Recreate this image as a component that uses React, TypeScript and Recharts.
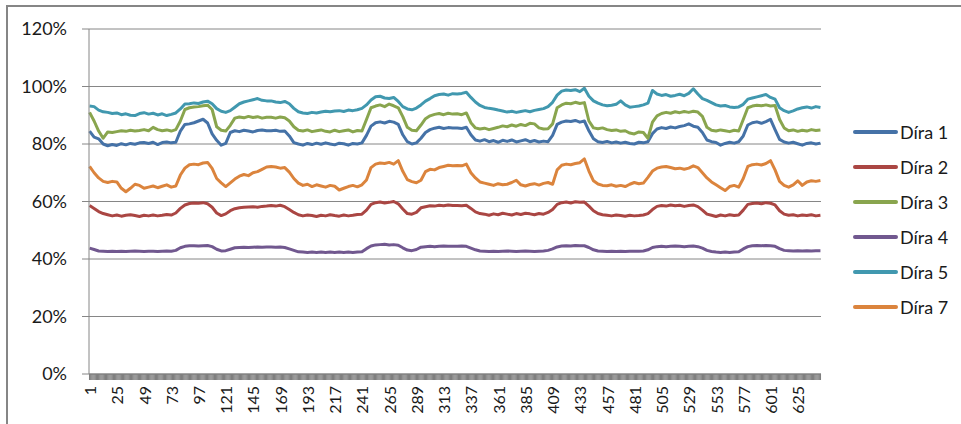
import React from 'react';
import {
  LineChart,
  Line,
  XAxis,
  YAxis,
  CartesianGrid,
  Legend,
} from 'recharts';

// values read every 4th measurement (1, 5, 9 ... 645), in %
const dira1 = [
  84.5, 82.4, 81.8, 80.0, 79.4, 79.8, 79.5, 80.1, 79.7, 80.2, 79.9, 80.4, 80.5, 80.2, 80.6, 79.8, 80.5, 80.7, 80.4, 80.6,
  84.5, 86.8, 87.0, 87.4, 88.0, 88.6, 87.3, 83.5, 81.3, 79.6, 80.2, 84.0, 84.6, 84.3, 84.8, 84.5, 84.2, 84.7, 84.9, 84.6,
  84.6, 84.8, 84.4, 84.5, 82.8, 80.5, 80.0, 79.6, 80.2, 79.8, 80.3, 79.9, 80.4, 80.0, 79.7, 80.3, 80.1, 79.6, 80.2, 80.0,
  80.4, 83.0, 86.2, 87.4, 87.7, 87.3, 87.9, 87.6, 86.8, 83.2, 80.8, 80.0, 80.4, 82.0, 84.0, 85.0, 85.5, 85.8, 85.4, 85.7, 85.6,
  85.6, 85.4, 85.8, 83.2, 81.4, 81.0, 81.5, 80.8, 81.2, 80.6, 81.3, 80.9, 81.4, 80.7, 81.1, 81.5, 80.8, 81.2, 80.7, 81.0,
  80.8, 83.0, 86.8, 87.6, 88.0, 87.8, 88.2, 87.6, 88.0, 84.6, 81.8, 80.8, 80.5, 80.9, 80.4, 80.7, 80.3, 80.6, 80.2, 80.0,
  80.6, 80.4, 80.8, 83.6, 85.2, 85.7, 85.4, 85.9, 85.6, 86.1, 86.4, 87.0, 86.2, 85.8, 84.0, 81.4, 80.8, 80.5, 79.6, 80.2,
  80.6, 80.3, 80.8, 82.8, 86.6, 87.4, 87.7, 87.2, 87.8, 88.6, 85.0, 81.6, 80.7, 80.3, 80.6, 80.1, 79.6, 80.2, 80.4, 80.0, 80.3,
];

const dira2 = [
  58.6, 57.6, 56.5, 55.8, 55.4, 55.0, 55.3, 54.9, 55.2, 55.4, 55.1, 54.8, 55.2, 55.0, 55.3, 55.0, 55.2, 55.5, 55.3, 56.0,
  57.6, 58.8, 59.3, 59.5, 59.4, 59.6, 59.2, 58.0, 56.0, 55.1, 55.7, 56.8, 57.5, 57.8, 58.0, 58.1, 58.2, 58.0, 58.3, 58.4,
  58.6, 58.4, 58.7, 58.2, 57.2, 56.2, 55.4, 55.0, 55.3, 55.1, 54.8, 55.2, 55.0, 55.4, 55.1, 54.9, 55.3, 55.0, 55.2, 55.5,
  55.6, 57.0, 59.0, 59.6, 59.8, 59.5, 59.7, 60.0, 59.2, 57.4, 55.8, 55.6, 56.2, 57.8, 58.2, 58.5, 58.4, 58.7, 58.5, 58.8, 58.6,
  58.6, 58.5, 58.7, 57.6, 56.4, 55.8, 55.6, 55.2, 55.7, 55.4, 55.9, 55.6, 55.3, 55.8, 55.5, 55.9, 55.7, 55.4, 55.8, 55.6,
  56.2, 57.2, 59.0, 59.6, 59.8, 59.5, 59.9, 59.7, 59.8, 58.4, 56.8, 55.8, 55.4, 55.2, 55.0, 55.3, 55.1, 54.9, 55.2, 55.0,
  55.1, 55.3, 55.8, 57.2, 58.3, 58.6, 58.4, 58.8, 58.5, 58.7, 58.3, 58.6, 58.8, 58.2, 57.0, 55.6, 55.2, 54.8, 55.3, 55.0,
  55.4, 55.1, 55.3, 57.0, 59.0, 59.3, 59.5, 59.2, 59.6, 59.4, 58.8, 56.8, 55.6, 55.2, 55.4, 55.0, 55.3, 55.1, 55.4, 55.0, 55.2,
];

const dira3 = [
  91.0, 88.0, 84.5, 82.0, 84.2, 84.0, 84.3, 84.6, 84.4, 84.8, 84.5, 84.7, 85.0, 84.6, 85.8, 85.0, 84.6, 84.9, 84.5, 85.0,
  88.0, 92.0, 92.6, 92.9, 93.0, 93.3, 93.5, 92.0, 86.0, 84.8, 84.5, 86.5, 89.0, 89.4, 89.1, 89.6, 89.2, 89.5, 89.0, 89.3,
  89.3, 89.0, 89.4, 89.1, 88.0, 86.0, 84.8, 84.5, 84.9, 84.3, 84.6, 84.9, 84.4, 84.2, 84.8, 84.3, 84.6, 84.9, 84.2, 84.7,
  84.5, 88.5, 92.6, 93.2, 93.6, 93.0, 93.9, 93.3, 92.6, 89.5, 85.8, 84.8, 84.6, 86.6, 88.8, 89.8, 90.3, 90.6, 90.2, 90.7, 90.4,
  90.5, 90.2, 90.8, 87.4, 85.6, 85.2, 85.5, 85.0, 85.4, 85.8, 86.3, 86.0, 86.6, 86.2, 86.8, 86.4, 87.2, 87.0, 85.6, 85.2,
  85.3, 87.0, 92.6, 93.6, 94.2, 94.0, 94.5, 94.1, 94.4, 88.0, 85.6, 85.3, 85.6, 85.0, 84.7, 84.9, 84.4, 84.6, 83.8, 83.5,
  84.2, 84.0, 82.0, 87.6, 89.8, 90.6, 91.0, 90.7, 91.2, 90.9, 91.3, 91.0, 91.4, 91.1, 89.6, 85.8, 84.8, 84.5, 84.9, 84.6,
  84.3, 84.8, 84.5, 88.5, 92.6, 93.2, 93.5, 93.3, 93.6, 93.2, 93.4, 88.5, 85.6, 84.6, 84.9, 84.4, 84.8, 84.5, 85.0, 84.7, 84.9,
];

const dira4 = [
  43.8, 43.3, 42.8, 42.7, 42.6, 42.7, 42.6, 42.7, 42.6, 42.7, 42.8, 42.7, 42.6, 42.7, 42.7, 42.6, 42.7, 42.8, 42.7, 43.0,
  43.9, 44.4, 44.6, 44.6, 44.5, 44.6, 44.7, 44.3, 43.4, 42.8, 42.9, 43.4, 43.9, 44.0, 44.1, 44.0, 44.1, 44.2, 44.1, 44.2,
  44.2, 44.1, 44.2, 44.0, 43.5, 43.0, 42.5, 42.4, 42.3, 42.4, 42.3, 42.4, 42.3, 42.4, 42.3, 42.4, 42.3, 42.4, 42.3, 42.4,
  42.5, 43.6, 44.5, 44.9, 45.0, 45.1, 44.9, 45.0, 44.8, 43.9, 43.1, 42.9, 43.3, 44.1, 44.3, 44.4, 44.3, 44.4, 44.5, 44.4, 44.4,
  44.4, 44.5, 44.4, 43.8, 43.2, 42.8, 42.7, 42.6, 42.7, 42.6, 42.7, 42.8, 42.7, 42.6, 42.7, 42.8, 42.7, 42.6, 42.7, 42.8,
  43.0, 43.5, 44.2, 44.5, 44.6, 44.5, 44.7, 44.6, 44.6, 44.0, 43.2, 42.8, 42.7, 42.6, 42.7, 42.6, 42.7, 42.6, 42.7, 42.7,
  42.7, 42.8, 43.2, 44.0, 44.3, 44.4, 44.3, 44.4, 44.5, 44.4, 44.3, 44.4, 44.5, 44.3, 43.8, 43.0, 42.6, 42.4, 42.3, 42.4,
  42.3, 42.4, 42.5, 43.5, 44.3, 44.6, 44.7, 44.6, 44.7, 44.6, 44.4, 43.6, 43.0, 42.9, 42.8, 42.9, 42.8, 42.9, 42.8, 42.9, 42.9,
];

const dira5 = [
  93.2, 93.0, 91.8, 91.2, 91.0, 90.6, 90.8, 90.2, 90.5, 90.0, 89.9, 90.6, 90.9, 90.4, 90.7, 90.1, 90.5, 89.9, 90.3, 90.8,
  92.2, 93.9, 94.0, 94.3, 94.1, 94.6, 94.9, 94.0, 92.3, 91.4, 91.0, 91.6, 92.8, 94.0, 94.6, 95.0, 95.4, 95.8, 95.2, 95.0,
  95.0, 94.6, 94.4, 94.8, 94.0, 92.4, 91.2, 90.8, 90.6, 91.0, 90.8, 91.1, 91.4, 91.2, 91.5, 91.6, 91.3, 91.8, 91.6, 91.9,
  92.4, 93.6, 95.3, 96.4, 96.6, 96.0, 95.8, 96.2, 94.8, 93.0, 92.2, 91.9, 92.5, 93.6, 94.9, 95.8, 96.8, 97.2, 97.4, 97.0, 97.5,
  97.4, 97.6, 98.0, 96.2, 94.6, 93.4, 92.7, 92.4, 92.2, 91.8, 91.5, 91.1, 91.4, 91.0, 91.3, 91.6, 91.2, 91.7, 92.0, 92.3,
  93.0, 94.5, 97.0, 98.4, 98.8, 98.6, 98.9, 98.2, 99.4, 96.6, 95.0, 94.2, 93.6, 93.3, 93.5, 93.8, 95.0, 93.6, 92.8, 93.0,
  93.2, 93.6, 94.2, 98.6, 97.4, 96.9, 97.2, 96.6, 96.9, 97.3, 96.8, 97.6, 99.2, 97.4, 95.8, 95.2, 94.4, 93.6, 93.2, 93.4,
  92.9, 92.7, 92.9, 93.8, 95.6, 96.0, 96.4, 96.8, 97.2, 96.2, 95.6, 92.6, 91.6, 91.0, 91.5, 92.2, 92.6, 92.9, 92.5, 93.0, 92.7,
];

const dira7 = [
  72.2, 70.0, 68.2, 67.0, 66.6, 67.0, 66.8, 64.6, 63.4, 64.6, 66.0, 65.6, 64.6, 65.0, 65.4, 64.8, 65.3, 65.8, 65.0, 65.4,
  69.2, 71.6, 72.8, 73.0, 72.8, 73.4, 73.6, 71.5, 68.0, 66.5, 65.2, 66.5, 67.8, 68.8, 69.4, 69.0, 70.0, 70.4, 71.2, 72.0,
  72.2, 72.0, 71.6, 71.8, 70.2, 68.0, 66.4, 65.6, 66.0, 65.2, 65.8, 65.4, 65.0, 65.6, 65.3, 64.0, 64.6, 65.2, 65.6, 65.1,
  65.8, 67.5, 71.8, 73.0, 73.4, 73.2, 73.6, 73.0, 74.2, 70.5, 67.6, 66.9, 66.5, 67.4, 70.4, 71.2, 71.0, 71.8, 72.2, 72.6, 72.4,
  72.5, 72.4, 73.0, 70.0, 68.2, 66.8, 66.4, 66.0, 65.6, 66.2, 65.8, 66.0, 66.6, 67.4, 65.8, 65.4, 65.9, 66.2, 65.7, 66.3,
  66.6, 66.0, 71.0, 72.6, 73.0, 72.8, 73.2, 73.5, 74.8, 70.6, 67.2, 66.1, 65.6, 65.5, 65.8, 65.3, 65.6, 65.2, 66.0, 66.6,
  66.2, 66.4, 68.4, 70.6, 71.6, 72.0, 72.2, 71.8, 71.4, 71.6, 71.2, 71.6, 72.4, 71.8, 70.0, 68.2, 66.8, 65.8, 64.8, 63.8,
  65.2, 65.6, 65.0, 68.0, 72.2, 72.8, 73.0, 72.7, 73.2, 74.2, 71.0, 67.0, 65.6, 65.0, 65.8, 67.2, 65.6, 66.8, 67.2, 67.0, 67.3,
];

const xLabels = [1, 25, 49, 73, 97, 121, 145, 169, 193, 217, 241, 265, 289, 313, 337, 361, 385, 409, 433, 457, 481, 505, 529, 553, 577, 601, 625];
const yTicks = [0, 20, 40, 60, 80, 100, 120];
const lastSample = 645;

const series = [
  { key: 'd1', name: 'Díra 1', color: '#4572A7', values: dira1 },
  { key: 'd2', name: 'Díra 2', color: '#AA4643', values: dira2 },
  { key: 'd3', name: 'Díra 3', color: '#89A54E', values: dira3 },
  { key: 'd4', name: 'Díra 4', color: '#71588F', values: dira4 },
  { key: 'd5', name: 'Díra 5', color: '#4198AF', values: dira5 },
  { key: 'd7', name: 'Díra 7', color: '#DB843D', values: dira7 },
];

const rows = dira1.map((_, k) => {
  const row: Record<string, number> = { x: 1 + 4 * k };
  series.forEach((s) => {
    row[s.key] = s.values[k];
  });
  return row;
});

// one tick mark per measurement, Excel draws them as a solid band
const allTicks = Array.from({ length: lastSample }, (_, i) => i + 1);

const FONT = 'Lato, "Open Sans", sans-serif';
const AXIS_GREY = '#868686';

const XTick = (props: any) => {
  const { x, y, payload } = props;
  if (!xLabels.includes(payload.value)) return <g />;
  const ty = y + 4;
  return (
    <text
      x={x}
      y={ty}
      transform={`rotate(-90 ${x} ${ty})`}
      textAnchor="end"
      dominantBaseline="central"
      fill="#1a1a1a"
      fontSize={16}
      fontFamily={FONT}
    >
      {payload.value}
    </text>
  );
};

const LegendBox = () => (
  <div style={{ fontFamily: FONT, fontSize: 18, color: '#1a1a1a' }}>
    {series.map((s) => (
      <div key={s.key} style={{ height: 35, display: 'flex', alignItems: 'center' }}>
        <span
          style={{
            display: 'inline-block',
            width: 45,
            height: 4,
            borderRadius: 2,
            background: s.color,
            marginRight: 2,
          }}
        />
        <span>{s.name}</span>
      </div>
    ))}
  </div>
);

const App = () => {
  return (
    <div
      style={{
        position: 'absolute',
        left: 0,
        top: 0,
        width: 961,
        height: 424,
        overflow: 'hidden',
        background: '#fff',
      }}
    >
      <div
        style={{
          position: 'absolute',
          left: 6,
          top: 5,
          width: 1100,
          height: 600,
          border: `2px solid ${AXIS_GREY}`,
        }}
      />
      <LineChart
        width={961}
        height={424}
        data={rows}
        margin={{ top: 29, right: 140, bottom: 0, left: 19 }}
      >
        <CartesianGrid horizontal vertical={false} stroke="#868686" />
        <XAxis
          dataKey="x"
          type="number"
          domain={[0.5, lastSample + 0.5]}
          ticks={allTicks}
          interval={0}
          height={50}
          tickSize={6}
          tickLine={{ stroke: '#7f7f7f', strokeWidth: 1.2 }}
          axisLine={{ stroke: AXIS_GREY }}
          tick={<XTick />}
        />
        <YAxis
          domain={[0, 120]}
          ticks={yTicks}
          width={70}
          tickSize={7}
          tickMargin={15}
          tickFormatter={(v: number) => `${v}%`}
          tick={{ fill: '#1a1a1a', fontSize: 18, fontFamily: FONT }}
          tickLine={{ stroke: AXIS_GREY }}
          axisLine={{ stroke: AXIS_GREY }}
        />
        <Legend
          layout="vertical"
          align="center"
          verticalAlign="middle"
          wrapperStyle={{ left: 853, top: 114, width: 108 }}
          content={<LegendBox />}
        />
        {series.map((s) => (
          <Line
            key={s.key}
            type="linear"
            dataKey={s.key}
            name={s.name}
            stroke={s.color}
            strokeWidth={3}
            dot={false}
            strokeLinejoin="round"
            isAnimationActive={false}
          />
        ))}
      </LineChart>
    </div>
  );
};

export default App;
